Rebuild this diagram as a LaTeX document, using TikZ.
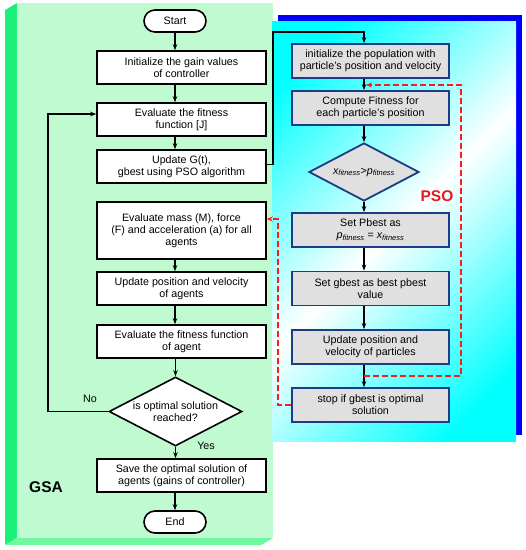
\documentclass[tikz,border=0pt]{standalone}
\usepackage{fontspec}
\setmainfont{Liberation Sans}
\usetikzlibrary{shapes.geometric,arrows.meta}
\definecolor{gfront}{HTML}{C0FAD0}
\definecolor{gleft}{HTML}{1CF078}
\definecolor{gbot}{HTML}{70F8A0}
\definecolor{pblue}{HTML}{0000FF}
\definecolor{pcyan}{HTML}{00FFFF}
\definecolor{pborder}{HTML}{1C3C85}
\definecolor{pfill}{HTML}{E0E0E0}
\definecolor{lred}{HTML}{FF1A1A}
\definecolor{pred}{HTML}{E8191E}
\pgfdeclareverticalshading{cyw}{100bp}{color(0bp)=(pcyan); color(22bp)=(pcyan); color(50bp)=(white); color(78bp)=(pcyan); color(100bp)=(pcyan)}
\begin{document}
\begin{tikzpicture}[x=1pt,y=-1pt,
 txt/.style={align=center,font=\fontsize{10.7}{12}\selectfont,inner sep=0pt},
 gbox/.style={txt,draw=black,line width=1.6pt,fill=white,minimum width=169,minimum height=33},
 pbox/.style={txt,draw=pborder,line width=1.8pt,fill=pfill,minimum width=157,minimum height=34},
 term/.style={txt,draw=black,line width=1.6pt,fill=white,minimum width=62,minimum height=22,rounded corners=11pt},
 gdia/.style={diamond,draw=black,line width=1.6pt,fill=white,inner sep=0pt},
 pdia/.style={diamond,draw=pborder,line width=1.8pt,fill=pfill,inner sep=0pt},
 lbl/.style={font=\bfseries\fontsize{15.5}{18}\selectfont,inner sep=0pt},
 arr/.style={line width=1.4pt,-{Stealth[length=6pt,width=4.5pt]}},
 darr/.style={line width=1.8pt,draw=lred,dash pattern=on 6pt off 3pt,-{Stealth[length=6pt,width=5pt]}},
]
\useasboundingbox (0,0) rectangle (526,550);
% panels
\fill[gleft] (17,3) -- (5,10) -- (5,545) -- (17,538) -- cycle;
\fill[gbot] (17,538) -- (5,545) -- (261,545) -- (273,538) -- cycle;
\fill[gfront] (17,3) rectangle (273,538);
\fill[pblue] (278,15) rectangle (522,435);
\shade[shading=cyw,shading angle=45] (272,21) rectangle (516,441);
% GSA nodes
\node[term] (st) at (175,21) {Start};
\node[gbox] (b1) at (181.5,67.5) {Initialize the gain values\\of controller};
\node[gbox] (b2) at (181.5,119.5) {Evaluate the fitness\\function [J]};
\node[gbox] (b3) at (181.5,166.5) {Update G(t),\\gbest using PSO algorithm};
\node[gbox,minimum height=57] (b4) at (181.5,230.5) {Evaluate mass (M), force\\(F) and acceleration (a) for all\\agents};
\node[gbox] (b5) at (181.5,288.5) {Update position and velocity\\of agents};
\node[gbox] (b6) at (181.5,341.5) {Evaluate the fitness function\\of agent};
\node[gdia,minimum width=133,minimum height=69] (gd) at (175.5,411.5) {};
\node[txt] (gdt) at (gd) {is optimal solution\\reached?};
\node[gbox] (b7) at (181.5,475.5) {Save the optimal solution of\\agents (gains of controller)};
\node[term] (en) at (175,522) {End};
\node[lbl] (gsa) at (46,487) {GSA};
\node[txt] (no) at (90,399) {No};
\node[txt] (yes) at (206,446) {Yes};
% PSO nodes
\node[pbox] (p1) at (370.5,61) {initialize the population with\\particle's position and velocity};
\node[pbox] (p2) at (370.5,108) {Compute Fitness for\\each particle's position};
\node[pdia,minimum width=110,minimum height=58] (pd) at (364,172) {};
\node[txt] (pdt) at (pd) {{\itshape x}\textsubscript{\itshape fitness}>{\itshape p}\textsubscript{\itshape fitness}};
\node[pbox] (p3) at (370.5,230) {Set Pbest as\\{\itshape p}\textsubscript{\itshape fitness} = {\itshape x}\textsubscript{\itshape fitness}};
\node[pbox] (p4) at (370.5,288.5) {Set gbest as best pbest\\value};
\node[pbox] (p5) at (370.5,347) {Update position and\\velocity of particles};
\node[pbox] (p6) at (370.5,405) {stop if gbest is optimal\\solution};
\node[lbl,text=pred] (pso) at (437,196) {PSO};
% GSA connectors
\draw[arr] (st.south) -- (b1.north -| st);
\draw[arr] (b1.south -| st) -- (b2.north -| st);
\draw[arr] (b2.south -| st) -- (b3.north -| st);
\draw[arr] (b4.south -| st) -- (b5.north -| st);
\draw[arr] (b5.south -| st) -- (b6.north -| st);
\draw[arr] (b6.south -| gd) -- (gd.north);
\draw[arr] (gd.south) -- (b7.north -| gd);
\draw[arr] (b7.south -| en) -- (en.north);
\coordinate (lp) at (48,114);
\draw[arr] (gd.west) -| (lp) -- (lp -| b2.west);
\coordinate (c1) at (273,32);
\draw[arr] ([yshift=2pt]b3.east) -| (c1) -| (p1.north -| pd);
% PSO connectors
\draw[arr] (p1.south -| pd) -- (p2.north -| pd);
\draw[arr] (p2.south -| pd) -- (pd.north);
\draw[arr] (pd.south) -- (p3.north -| pd);
\draw[arr] (p3.south -| pd) -- (p4.north -| pd);
\draw[arr] (p4.south -| pd) -- (p5.north -| pd);
\draw[arr] (p5.south -| pd) -- (p6.north -| pd);
% red loops
\coordinate (r1) at (461,376);
\coordinate (r2) at (461,85);
\draw[darr] (r1 -| pd) -- (r1) -- (r2) -- ([xshift=2pt]r2 -| pd);
\coordinate (r3) at (278,219);
\draw[darr] (p6.west) -| (r3) -- (r3 -| b4.east);
\end{tikzpicture}
\end{document}
